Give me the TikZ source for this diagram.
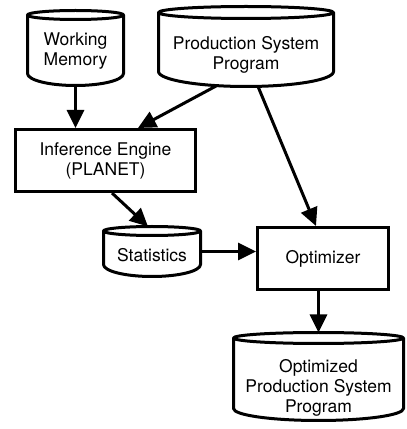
\documentclass[tikz,border=0pt]{standalone}
\usepackage{fontspec}
\setmainfont{TeX Gyre Heros}
\usetikzlibrary{arrows.meta,calc}
\newcommand\diaglabelfont{\fontsize{17.5}{20}\selectfont}
% cylinder outline around a named node: #1 name, #2 top radius, #3 bottom depth
\newcommand\drum[3]{%
  \draw[outline] let \p1=($(#1.east)-(#1.west)$) in
    ($(#1.north west)+(0,-#2)$) -- ($(#1.south west)+(0,#3)$)
    arc[start angle=180, end angle=360, x radius=0.5*\x1, y radius=#3pt]
    -- ($(#1.north east)+(0,-#2)$)
    ($(#1.north)+(0,-#2)$) ellipse[x radius=0.5*\x1, y radius=#2pt];
}
\begin{document}
\begin{tikzpicture}[x=1pt,y=1pt,
  outline/.style={line width=3pt, line join=round},
  hold/.style={inner sep=0pt, outer sep=0pt, draw=none},
  box/.style={draw, line width=3pt, inner sep=0pt, minimum height=62pt,
    align=center, font=\diaglabelfont},
  lbl/.style={align=center, inner sep=0pt, font=\diaglabelfont},
  flow/.style={line width=3pt, -{Triangle[length=18pt,width=17pt]}}
]
\useasboundingbox (0,0) rectangle (407,429);

% stores
\node[hold, minimum width=96pt,  minimum height=75pt] (wm)   at (75.5,381)  {};
\node[hold, minimum width=175pt, minimum height=80pt] (psp)  at (246,382.5) {};
\node[hold, minimum width=97pt,  minimum height=50pt] (stat) at (152,177.5) {};
\node[hold, minimum width=170pt, minimum height=88pt] (opsp) at (318.5,52.5) {};
\drum{wm}{4.5}{12}
\drum{psp}{6}{15}
\drum{stat}{4.5}{12}
\drum{opsp}{5.5}{12}

\node[lbl] (wm-t)   at ($(wm)+(0,-3)$)     {Working\\Memory};
\node[lbl] (psp-t)  at ($(psp)+(0,-8.5)$)  {Production System\\Program};
\node[lbl] (stat-t) at ($(stat)+(0,-3.5)$) {Statistics};
\node[lbl] (opsp-t) at ($(opsp)+(0,-11.5)$) {Optimized\\Production System\\Program};

% processes
\node[box, minimum width=180pt] (ie)  at (105.5,268.5) {Inference Engine\\(PLANET)};
\node[box, minimum width=131pt] (opt) at (323,170.5)   {Optimizer};

% data flow
\draw[flow] (wm.south) -- (wm.south |- ie.north);
\draw[flow] ($(psp.south)+(-29,1)$) -- ($(ie.north)+(32.5,0)$);
\draw[flow] ($(psp.south)+(12,0)$) -- ($(opt.north)+(-7,0)$);
\draw[flow] ($(ie.south)+(6.5,0)$) -- ($(stat.north)+(-4,0)$);
\draw[flow] (stat.east) -- (stat.east -| opt.west);
\draw[flow] (opt.south -| opsp.north) -- (opsp.north);
\end{tikzpicture}
\end{document}
